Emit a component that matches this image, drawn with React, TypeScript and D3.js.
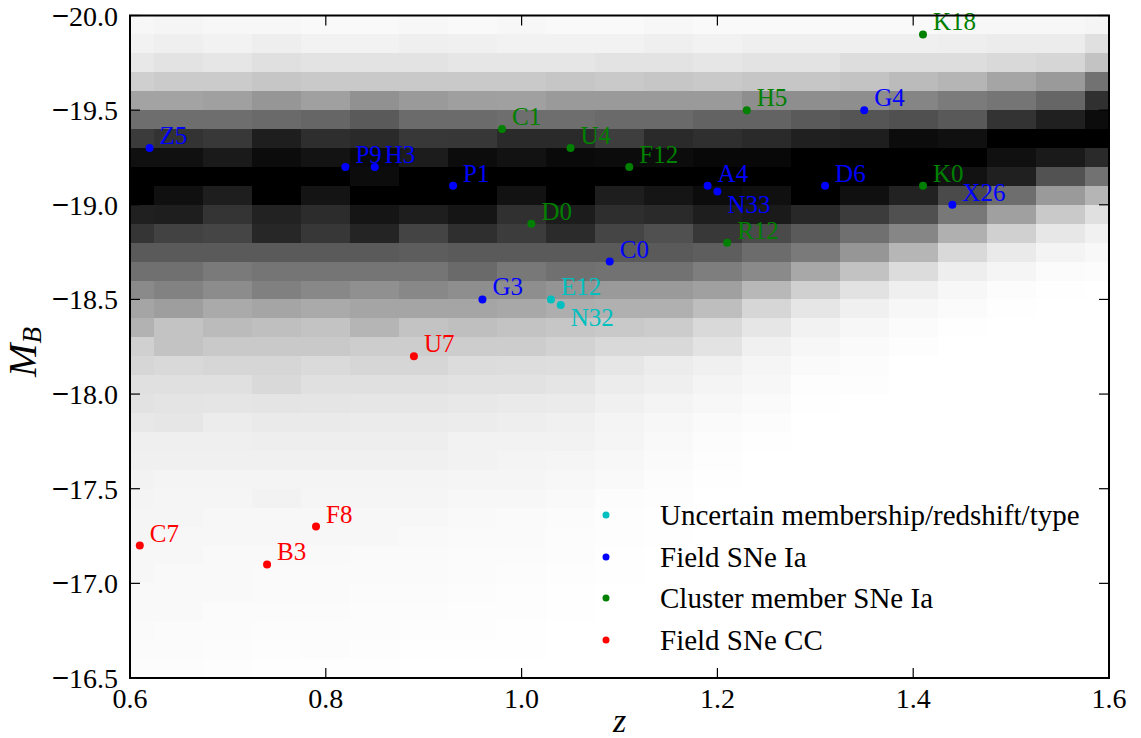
import React from 'react';
import * as d3 from 'd3';

// ---------- data ----------
const zBinCenters = [0.60, 0.65, 0.70, 0.75, 0.80, 0.85, 0.90, 0.95, 1.00, 1.05, 1.10, 1.15, 1.20, 1.25, 1.30, 1.35, 1.40, 1.45, 1.50, 1.55, 1.60];
// bright edge of each 0.1 mag bin (bin spans [edge, edge+0.1])
const mBinEdges = [-20.0, -19.9, -19.8, -19.7, -19.6, -19.5, -19.4, -19.3, -19.2, -19.1, -19.0, -18.9, -18.8, -18.7, -18.6, -18.5, -18.4, -18.3, -18.2, -18.1, -18.0, -17.9, -17.8, -17.7, -17.6, -17.5, -17.4, -17.3, -17.2, -17.1, -17.0, -16.9, -16.8, -16.7, -16.6];
// relative density (0 = none, 255 = max), rows follow mBinEdges, columns follow zBinCenters
const densityRows = [
  [8, 10, 8, 8, 6, 6, 8, 6, 8, 6, 6, 8, 6, 6, 6, 6, 6, 8, 8, 8, 10],
  [13, 16, 13, 17, 13, 13, 16, 15, 13, 13, 13, 16, 13, 16, 16, 16, 16, 17, 19, 19, 31],
  [23, 28, 25, 31, 28, 28, 28, 25, 25, 25, 28, 28, 25, 28, 28, 34, 34, 34, 38, 41, 60],
  [48, 52, 52, 57, 54, 54, 54, 54, 54, 57, 54, 57, 54, 57, 57, 60, 68, 74, 90, 101, 141],
  [92, 92, 95, 105, 95, 110, 101, 96, 95, 101, 101, 101, 101, 113, 113, 113, 122, 132, 138, 153, 207],
  [145, 145, 145, 149, 153, 165, 148, 148, 145, 145, 149, 149, 156, 156, 165, 170, 175, 166, 204, 223, 243],
  [196, 204, 199, 225, 209, 213, 199, 200, 213, 213, 193, 213, 208, 213, 223, 225, 243, 239, 255, 255, 255],
  [239, 239, 229, 243, 236, 245, 227, 243, 237, 245, 243, 243, 247, 247, 255, 255, 255, 255, 239, 229, 213],
  [255, 255, 255, 255, 255, 243, 255, 255, 255, 255, 255, 255, 255, 255, 255, 255, 255, 237, 223, 173, 141],
  [255, 239, 225, 255, 235, 255, 255, 255, 237, 255, 225, 234, 243, 239, 255, 239, 221, 181, 145, 101, 74],
  [223, 225, 203, 221, 211, 234, 225, 234, 207, 227, 209, 213, 225, 229, 215, 195, 175, 135, 95, 54, 31],
  [202, 189, 186, 216, 200, 219, 187, 208, 195, 212, 186, 175, 199, 181, 165, 143, 121, 79, 47, 24, 14],
  [165, 165, 165, 165, 165, 165, 162, 165, 165, 165, 165, 165, 161, 147, 133, 105, 73, 38, 21, 11, 7],
  [143, 143, 133, 138, 138, 138, 138, 149, 135, 143, 141, 141, 129, 117, 87, 61, 35, 17, 10, 4, 3],
  [117, 125, 115, 127, 119, 111, 119, 113, 113, 107, 101, 101, 95, 71, 47, 29, 16, 8, 3, 1, 0],
  [90, 97, 85, 90, 85, 90, 90, 90, 87, 81, 79, 79, 65, 41, 25, 15, 8, 4, 1, 0, 0],
  [77, 60, 68, 64, 60, 74, 60, 64, 60, 57, 54, 51, 38, 25, 13, 8, 4, 1, 0, 0, 0],
  [47, 60, 54, 54, 54, 50, 50, 50, 50, 45, 38, 38, 28, 15, 8, 5, 2, 0, 0, 0, 0],
  [41, 38, 41, 41, 37, 41, 41, 35, 34, 33, 25, 19, 15, 10, 5, 3, 0, 0, 0, 0, 0],
  [31, 31, 31, 38, 31, 31, 31, 29, 29, 26, 19, 16, 11, 8, 2, 2, 0, 0, 0, 0, 0],
  [29, 27, 26, 27, 26, 25, 25, 23, 21, 20, 15, 11, 8, 5, 1, 0, 0, 0, 0, 0, 0],
  [23, 25, 19, 21, 21, 20, 20, 19, 17, 15, 11, 8, 5, 3, 0, 0, 0, 0, 0, 0, 0],
  [16, 16, 16, 17, 17, 17, 17, 13, 13, 13, 10, 6, 3, 1, 0, 0, 0, 0, 0, 0, 0],
  [15, 15, 15, 15, 15, 15, 15, 13, 11, 10, 8, 5, 2, 0, 0, 0, 0, 0, 0, 0, 0],
  [13, 11, 11, 11, 11, 11, 11, 10, 10, 8, 6, 3, 1, 0, 0, 0, 0, 0, 0, 0, 0],
  [11, 10, 10, 13, 10, 10, 10, 8, 8, 6, 3, 2, 0, 0, 0, 0, 0, 0, 0, 0, 0],
  [10, 10, 8, 8, 8, 8, 8, 6, 5, 4, 2, 1, 0, 0, 0, 0, 0, 0, 0, 0, 0],
  [10, 8, 8, 8, 8, 8, 6, 5, 5, 3, 2, 1, 0, 0, 0, 0, 0, 0, 0, 0, 0],
  [8, 8, 6, 6, 6, 5, 5, 4, 4, 3, 1, 0, 0, 0, 0, 0, 0, 0, 0, 0, 0],
  [8, 6, 6, 5, 5, 5, 5, 4, 3, 2, 1, 0, 0, 0, 0, 0, 0, 0, 0, 0, 0],
  [6, 6, 6, 5, 5, 4, 4, 3, 2, 1, 0, 0, 0, 0, 0, 0, 0, 0, 0, 0, 0],
  [6, 6, 4, 4, 4, 3, 3, 2, 2, 1, 0, 0, 0, 0, 0, 0, 0, 0, 0, 0, 0],
  [5, 4, 4, 3, 3, 3, 2, 2, 1, 0, 0, 0, 0, 0, 0, 0, 0, 0, 0, 0, 0],
  [4, 4, 3, 2, 3, 2, 1, 1, 1, 0, 0, 0, 0, 0, 0, 0, 0, 0, 0, 0, 0],
  [3, 3, 2, 1, 1, 1, 0, 0, 0, 0, 0, 0, 0, 0, 0, 0, 0, 0, 0, 0, 0],
];

const xTicks = [0.6, 0.8, 1.0, 1.2, 1.4, 1.6];
const yTicks = [-20.0, -19.5, -19.0, -18.5, -18.0, -17.5, -17.0, -16.5];

const uncertainNames = ['E12', 'N32'];
const uncertainZ = [1.03, 1.04];
const uncertainM = [-18.5, -18.47];

const fieldIaNames = ['Z5', 'P9', 'H3', 'P1', 'G3', 'C0', 'A4', 'N33', 'D6', 'G4', 'X26'];
const fieldIaZ = [0.62, 0.82, 0.85, 0.93, 0.96, 1.09, 1.19, 1.20, 1.31, 1.35, 1.44];
const fieldIaM = [-19.3, -19.2, -19.2, -19.1, -18.5, -18.7, -19.1, -19.07, -19.1, -19.5, -19.0];

const clusterNames = ['C1', 'U4', 'F12', 'D0', 'H5', 'K18', 'K0', 'R12'];
const clusterZ = [0.98, 1.05, 1.11, 1.01, 1.23, 1.41, 1.41, 1.21];
const clusterM = [-19.4, -19.3, -19.2, -18.9, -19.5, -19.9, -19.1, -18.8];

const ccNames = ['U7', 'C7', 'B3', 'F8'];
const ccZ = [0.89, 0.61, 0.74, 0.79];
const ccM = [-18.2, -17.2, -17.1, -17.3];

const labelsBelow = ['N33', 'N32'];

const legendLabels = ['Uncertain membership/redshift/type', 'Field SNe Ia', 'Cluster member SNe Ia', 'Field SNe CC'];
const seriesColors = ['#00bfbf', '#0000ff', '#008000', '#ff0000'];

// ---------- layout ----------
const W = 1141;
const H = 738;
const L = 130, R = 1109, T = 15.5, B = 678;
const FONT = '"Liberation Serif", "Times New Roman", "DejaVu Serif", serif';

export default function App() {
  const x = d3.scaleLinear().domain([0.6, 1.6]).range([L, R]);
  const y = d3.scaleLinear().domain([-20, -16.5]).range([T, B]);
  const gray = d3.scaleLinear<string>().domain([0, 255]).range(['#ffffff', '#000000']).interpolate(d3.interpolateRgb);
  const fmt = d3.format('.1f');
  const halfZ = 0.025;

  const series = [
    { names: uncertainNames, z: uncertainZ, m: uncertainM, color: seriesColors[0] },
    { names: fieldIaNames, z: fieldIaZ, m: fieldIaM, color: seriesColors[1] },
    { names: clusterNames, z: clusterZ, m: clusterM, color: seriesColors[2] },
    { names: ccNames, z: ccZ, m: ccM, color: seriesColors[3] },
  ];

  const legendY = [515, 557, 598, 640];
  const ts = { fontFamily: FONT } as React.CSSProperties;

  return (
    <svg width={W} height={H} style={{ position: 'absolute', left: 0, top: 0, background: '#fff', fontFamily: FONT }}>
      <defs>
        <clipPath id="plotClip">
          <rect x={L} y={T} width={R - L} height={B - T} />
        </clipPath>
      </defs>
      <rect x={0} y={0} width={W} height={H} fill="#fff" />
      <g clipPath="url(#plotClip)">
        {densityRows.map((row, j) =>
          row.map((v, i) => {
            const x0 = x(zBinCenters[i] - halfZ);
            const x1 = x(zBinCenters[i] + halfZ);
            const y0 = y(mBinEdges[j]);
            const y1 = y(mBinEdges[j] + 0.1);
            return (
              <rect key={`c${j}-${i}`} x={x0} y={y0} width={x1 - x0 + 0.6} height={y1 - y0 + 0.6} fill={gray(v)} shapeRendering="crispEdges" />
            );
          })
        )}
      </g>

      {/* points */}
      {series.map((s, si) => (
        <g key={`s${si}`}>
          {s.z.map((zv, k) => {
            const px = x(zv);
            const py = y(s.m[k]);
            const below = labelsBelow.includes(s.names[k]);
            return (
              <g key={`p${si}-${k}`}>
                <circle cx={px} cy={py} r={4} fill={s.color} />
                <text style={ts} x={px + 10} y={below ? py + 21 : py - 4} fontSize={25} fill={s.color}>{s.names[k]}</text>
              </g>
            );
          })}
        </g>
      ))}

      {/* frame */}
      <rect x={L} y={T} width={R - L} height={B - T} fill="none" stroke="#000" strokeWidth={2} />

      {/* x ticks */}
      {xTicks.map((t) => (
        <g key={`xt${t}`}>
          <line x1={x(t)} x2={x(t)} y1={B} y2={B - 10} stroke="#000" strokeWidth={1.2} />
          <line x1={x(t)} x2={x(t)} y1={T} y2={T + 10} stroke="#000" strokeWidth={1.2} />
          <text style={ts} x={x(t)} y={708} fontSize={28} textAnchor="middle" fill="#000">{fmt(t)}</text>
        </g>
      ))}
      {/* y ticks */}
      {yTicks.map((t) => {
        const digits = fmt(Math.abs(t));
        return (
          <g key={`yt${t}`}>
            <line x1={L} x2={L + 10} y1={y(t)} y2={y(t)} stroke="#000" strokeWidth={1.2} />
            <line x1={R} x2={R - 10} y1={y(t)} y2={y(t)} stroke="#000" strokeWidth={1.2} />
            <text x={118} y={y(t) + 10} fontSize={28} textAnchor="end" fill="#000">
              <tspan style={{ fontFamily: '"DejaVu Sans", sans-serif' }} fontSize={23} dy={-3}>{'\u2212'}</tspan>
              <tspan style={ts} dx={-1} dy={3}>{digits}</tspan>
            </text>
          </g>
        );
      })}

      {/* axis labels */}
      <text style={ts} x={(L + R) / 2} y={732} fontSize={34} fontStyle="italic" textAnchor="middle" fill="#000">z</text>
      <text style={ts} transform={`translate(36, 352) rotate(-90)`} fontSize={40} textAnchor="middle" fill="#000">
        <tspan fontStyle="italic">M</tspan>
        <tspan fontStyle="italic" fontSize={27} dy={5}>B</tspan>
      </text>

      {/* legend */}
      {legendLabels.map((lab, i) => (
        <g key={`lg${i}`}>
          <circle cx={606} cy={legendY[i]} r={3.5} fill={seriesColors[i]} />
          <text style={ts} x={660} y={legendY[i] + 10} fontSize={29} fill="#000">{lab}</text>
        </g>
      ))}
    </svg>
  );
}
